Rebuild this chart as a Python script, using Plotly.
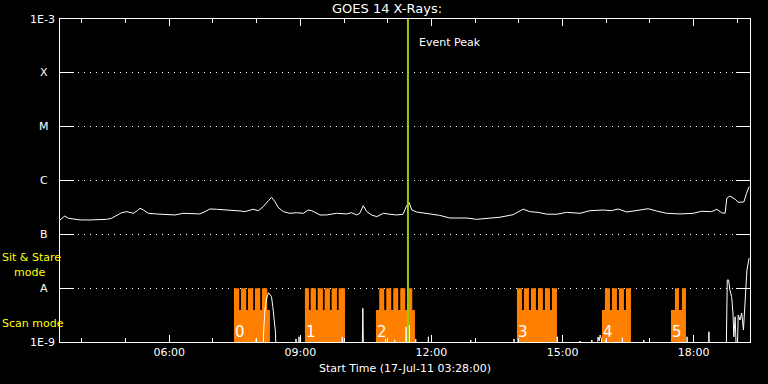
import math
import plotly.graph_objects as go

# ---------------- data ----------------
# GOES 14 long channel (1-8 A), time in decimal hours (UT, 17-Jul-11), flux W/m^2
long_t = [3.50, 3.61, 3.69, 3.84, 3.96, 4.19, 4.41, 4.57, 4.68, 4.80, 4.91, 5.03, 5.18, 5.27, 5.33,
          5.41, 5.52, 5.71, 5.94, 6.13, 6.32, 6.55, 6.70, 6.82, 6.93, 7.08, 7.31, 7.50, 7.62, 7.73,
          7.85, 7.92, 8.04, 8.15, 8.27, 8.34, 8.42, 8.49, 8.61, 8.76, 8.92, 9.07, 9.18, 9.26, 9.45,
          9.60, 9.83, 10.06, 10.17, 10.29, 10.36, 10.44, 10.52, 10.63, 10.75, 10.90, 11.05, 11.20,
          11.35, 11.43, 11.49, 11.55, 11.66, 11.89, 12.19, 12.42, 12.81, 13.03, 13.34, 13.57, 13.87,
          14.10, 14.25, 14.44, 14.64, 14.87, 15.09, 15.40, 15.63, 15.93, 16.12, 16.27, 16.47, 16.70,
          16.96, 17.15, 17.38, 17.69, 17.99, 18.18, 18.41, 18.53, 18.64, 18.72, 18.76, 18.83, 18.95,
          19.02, 19.10, 19.15, 19.21, 19.27]
long_flux = [1.85e-7, 2.19e-7, 1.99e-7, 1.93e-7, 1.85e-7, 1.85e-7, 1.85e-7, 1.90e-7, 1.99e-7, 2.29e-7,
             2.52e-7, 2.64e-7, 2.46e-7, 2.75e-7, 3.05e-7, 2.83e-7, 2.46e-7, 2.39e-7, 2.36e-7, 2.29e-7,
             2.46e-7, 2.39e-7, 2.39e-7, 2.64e-7, 2.96e-7, 2.92e-7, 2.83e-7, 2.83e-7, 2.72e-7, 2.64e-7,
             2.78e-7, 2.92e-7, 2.75e-7, 3.26e-7, 4.22e-7, 4.88e-7, 4.04e-7, 3.18e-7, 2.64e-7, 2.46e-7,
             2.52e-7, 2.46e-7, 2.83e-7, 2.75e-7, 2.29e-7, 2.29e-7, 2.46e-7, 2.39e-7, 2.52e-7, 2.29e-7,
             2.46e-7, 3.40e-7, 2.64e-7, 2.29e-7, 2.13e-7, 2.46e-7, 2.36e-7, 2.29e-7, 2.36e-7, 3.35e-7,
             3.90e-7, 2.83e-7, 2.60e-7, 2.44e-7, 2.25e-7, 2.01e-7, 2.01e-7, 1.90e-7, 2.01e-7, 2.08e-7,
             2.32e-7, 2.93e-7, 2.64e-7, 2.56e-7, 2.37e-7, 2.36e-7, 2.56e-7, 2.46e-7, 2.75e-7, 2.83e-7,
             2.75e-7, 2.96e-7, 2.60e-7, 2.75e-7, 2.99e-7, 2.72e-7, 2.46e-7, 2.39e-7, 2.46e-7, 2.68e-7,
             2.64e-7, 2.92e-7, 2.52e-7, 2.46e-7, 4.68e-7, 5.15e-7, 4.48e-7, 3.94e-7, 4.04e-7, 3.99e-7,
             5.78e-7, 7.67e-7]

# GOES 14 short channel (0.5-4 A): mostly below 1E-9
short_t = [3.50, 7.97, 7.99, 8.01, 8.14, 8.16, 8.19, 8.23, 8.27, 8.30, 8.34, 8.37, 8.40, 8.43, 8.46,
           8.88, 8.90, 8.92, 8.95, 8.97, 8.99, 9.94, 9.96, 9.98, 10.41, 10.43, 10.45, 10.93, 10.95,
           10.97, 11.14, 11.16, 11.18, 11.40, 11.42, 11.44, 11.47, 11.49, 11.51, 11.62, 11.64, 11.66,
           11.91, 11.93, 11.95, 12.88, 12.90, 12.92, 13.87, 13.89, 13.91, 14.86, 14.88, 14.90, 15.38,
           15.40, 15.42, 15.65, 15.67, 15.69, 15.79, 15.81, 15.84, 15.86, 15.89, 15.91, 15.97, 15.99,
           16.01, 16.35, 16.37, 16.39, 16.84, 16.86, 16.88, 17.83, 17.85, 17.87, 18.33, 18.35, 18.37,
           18.74, 18.77, 18.80, 18.83, 18.87, 18.90, 18.92, 18.95, 18.99, 19.02, 19.06, 19.10, 19.14,
           19.17, 19.19, 19.22, 19.27]
short_flux = [3e-10, 3e-10, 1.14e-9, 3e-10, 3e-10, 1.55e-9, 3.93e-9, 6.57e-9, 8.24e-9, 7.46e-9, 6.94e-9,
              4.53e-9, 2.56e-9, 1.55e-9, 3e-10, 3e-10, 1.14e-9, 3e-10, 3e-10, 1.25e-9, 3e-10, 3e-10,
              1.24e-9, 3e-10, 3e-10, 4.23e-9, 3e-10, 3e-10, 1.14e-9, 3e-10, 3e-10, 1.09e-9, 3e-10,
              3e-10, 1.92e-9, 3e-10, 3e-10, 2.07e-9, 3e-10, 3e-10, 1.14e-9, 3e-10, 3e-10, 1.25e-9,
              3e-10, 3e-10, 1.09e-9, 3e-10, 3e-10, 1.14e-9, 3e-10, 3e-10, 1.25e-9, 3e-10, 3e-10,
              1.04e-9, 3e-10, 3e-10, 1.09e-9, 3e-10, 3e-10, 1.24e-9, 1.05e-9, 1.35e-9, 1.14e-9, 3e-10,
              3e-10, 1.09e-9, 3e-10, 3e-10, 1.20e-9, 3e-10, 3e-10, 1.09e-9, 3e-10, 3e-10, 1.25e-9,
              3e-10, 3e-10, 1.55e-9, 3e-10, 3e-10, 1.42e-8, 1.42e-8, 9.25e-9, 6.94e-9, 3.46e-9,
              1.25e-9, 2.95e-9, 3e-10, 3.17e-9, 2.56e-9, 3.46e-9, 1.67e-9, 5.30e-9, 1.32e-8, 2.18e-8,
              3.63e-8]

# observing blocks: scan mode intervals (start, end) and raster (tooth) intervals
block_labels = ["0", "1", "2", "3", "4", "5"]
block_start = [7.481, 9.105, 10.730, 13.957, 15.902, 17.481]
block_end = [8.304, 10.021, 11.622, 14.872, 16.565, 17.824]
raster_starts = [
    [7.481, 7.641, 7.801, 7.961, 8.121],
    [9.105, 9.236, 9.396, 9.556, 9.716, 9.876],
    [10.805, 10.966, 11.126, 11.286, 11.446],
    [13.957, 14.117, 14.277, 14.437, 14.597, 14.757],
    [15.970, 16.130, 16.291, 16.451],
    [17.572, 17.732],
]
raster_ends = [
    [7.602, 7.762, 7.922, 8.082, 8.243],
    [9.197, 9.357, 9.517, 9.677, 9.838, 10.021],
    [10.920, 11.080, 11.240, 11.400, 11.561],
    [14.071, 14.231, 14.391, 14.551, 14.712, 14.872],
    [16.085, 16.245, 16.405, 16.565],
    [17.664, 17.824],
]
scan_level = 3.93e-9      # top of scan-mode bar
stare_level = 1.0e-8      # top of raster teeth
floor_level = 1.0e-9

event_peak = 11.462
x_range = [3.50, 19.29]
x_tickvals = [6, 9, 12, 15, 18]
x_ticktext = ["06:00", "09:00", "12:00", "15:00", "18:00"]
y_tickvals = [1e-9, 1e-8, 1e-7, 1e-6, 1e-5, 1e-4, 1e-3]
y_ticktext = ["1E-9", "A", "B", "C", "M", "X", "1E-3"]

# ---------------- figure ----------------
FONT = "DejaVu Sans"
ORANGE = "#ff8000"
fig = go.Figure()

px, py = [], []
for i in range(len(block_start)):
    s, e = block_start[i], block_end[i]
    px += [s, e, e, s, s, None]
    py += [floor_level, floor_level, scan_level, scan_level, floor_level, None]
    for a, b in zip(raster_starts[i], raster_ends[i]):
        px += [a, b, b, a, a, None]
        py += [floor_level, floor_level, stare_level, stare_level, floor_level, None]
fig.add_trace(go.Scatter(x=px, y=py, mode="lines", fill="toself", fillcolor=ORANGE,
                         line=dict(width=0, color=ORANGE), hoverinfo="skip", showlegend=False))

fig.add_trace(go.Scatter(x=short_t, y=short_flux, mode="lines",
                         line=dict(color="white", width=1), showlegend=False))
fig.add_trace(go.Scatter(x=long_t, y=long_flux, mode="lines",
                         line=dict(color="white", width=1), showlegend=False))
fig.add_trace(go.Scatter(x=[event_peak, event_peak], y=[1e-9, 1e-3], mode="lines",
                         line=dict(color="#99cc00", width=2), showlegend=False))

W, H = 768, 384
L, R, T, B = 60, 18, 19, 42
pw, ph = W - L - R, H - T - B


def pxx(x):
    return (x - L) / pw


def pyy(y):
    return (H - B - y) / ph


ann = []
for v, txt in zip(y_tickvals, y_ticktext):
    lv = math.log10(v)
    if txt.startswith("1E"):
        ann.append(dict(x=pxx(57), xref="paper", y=lv, yref="y", text=txt, xanchor="right",
                        yanchor="middle", showarrow=False, font=dict(family=FONT, size=11, color="white")))
    else:
        ann.append(dict(x=pxx(44), xref="paper", y=lv, yref="y", text=txt, xanchor="center",
                        yanchor="middle", showarrow=False, font=dict(family=FONT, size=11, color="white")))

yel = dict(family=FONT, size=11, color="#ffff00")
ann.append(dict(x=pxx(1), xref="paper", y=pyy(257), yref="paper", text="Sit & Stare", xanchor="left",
                yanchor="middle", showarrow=False, font=yel, borderpad=0))
ann.append(dict(x=pxx(13), xref="paper", y=pyy(272), yref="paper", text="mode", xanchor="left",
                yanchor="middle", showarrow=False, font=yel, borderpad=0))
ann.append(dict(x=pxx(1), xref="paper", y=pyy(323), yref="paper", text="Scan mode", xanchor="left",
                yanchor="middle", showarrow=False, font=yel, borderpad=0))

ann.append(dict(x=pxx(387), xref="paper", y=pyy(8), yref="paper", text="GOES 14 X-Rays:",
                xanchor="center", yanchor="middle", showarrow=False,
                font=dict(family=FONT, size=13, color="white")))
ann.append(dict(x=pxx(405), xref="paper", y=pyy(368), yref="paper",
                text="Start Time (17-Jul-11 03:28:00)", xanchor="center", yanchor="middle",
                showarrow=False, font=dict(family=FONT, size=11, color="white")))
ann.append(dict(x=event_peak, xref="x", xshift=9, y=pyy(43), yref="paper", text="Event Peak",
                xanchor="left", yanchor="middle", showarrow=False,
                font=dict(family=FONT, size=11, color="white")))

for s, lab in zip(block_start, block_labels):
    ann.append(dict(x=s, xref="x", xshift=-1, y=pyy(332), yref="paper", text=lab, xanchor="left",
                    yanchor="middle", showarrow=False,
                    font=dict(family=FONT, size=15, color="white")))

fig.update_layout(
    width=W, height=H,
    margin=dict(l=L, r=R, t=T, b=B),
    paper_bgcolor="black", plot_bgcolor="black",
    showlegend=False,
    annotations=ann,
    xaxis=dict(range=x_range, showgrid=False, zeroline=False,
               showline=True, linecolor="white", linewidth=1, mirror="allticks",
               ticks="inside", ticklen=7, tickcolor="white", tickwidth=1,
               tickvals=x_tickvals, ticktext=x_ticktext,
               tickfont=dict(family=FONT, size=11, color="white"),
               minor=dict(dtick=1, tick0=0, ticks="inside", ticklen=4, tickcolor="white", showgrid=False)),
    yaxis=dict(type="log", range=[-9, -3], zeroline=False,
               showline=True, linecolor="white", linewidth=1, mirror="allticks",
               ticks="inside", ticklen=14, tickcolor="white", tickwidth=1,
               tickvals=y_tickvals, showticklabels=False,
               showgrid=True, gridcolor="white", gridwidth=1, griddash="1px,5px"),
)

fig.write_html("out.html")
